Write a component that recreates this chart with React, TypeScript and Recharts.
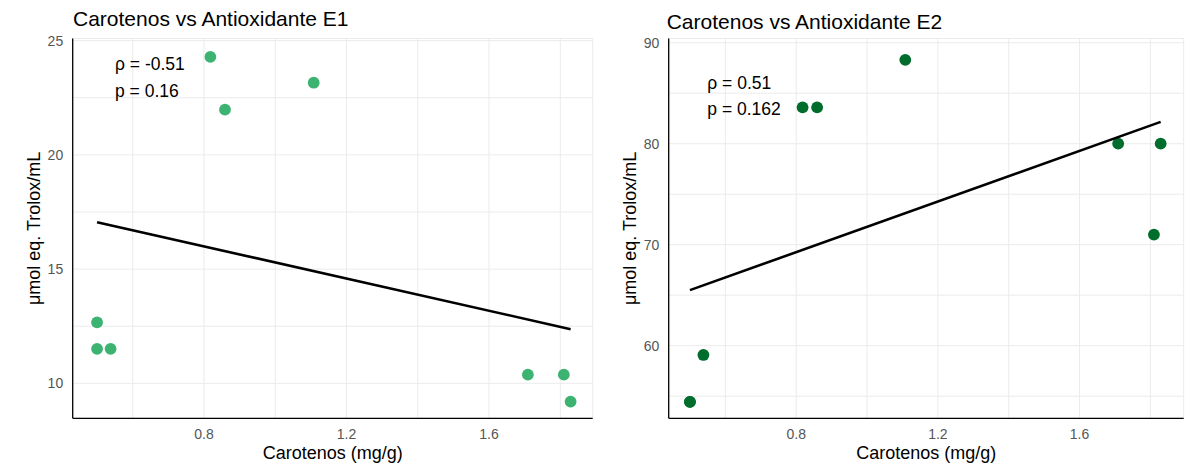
import React from "react";
import { ScatterChart, Scatter, XAxis, YAxis, CartesianGrid } from "recharts";

// Carotenos (mg/g) per sample
const carotenos = [0.5, 0.5, 0.538, 0.818, 0.859, 1.108, 1.709, 1.81, 1.829];
// µmol eq. Trolox/mL
const antioxE1 = [12.67, 11.51, 11.51, 24.29, 21.98, 23.16, 10.38, 10.38, 9.2];
const antioxE2 = [54.44, 54.44, 59.08, 83.6, 83.6, 88.3, 80.0, 71.0, 80.0];

// fitted line ends (lm)
const fitX = [0.5, 1.829];
const fitE1 = [17.05, 12.37];
const fitE2 = [65.5, 82.16];

const xTicks = [0.6, 0.8, 1.0, 1.2, 1.4, 1.6, 1.8];
const xLabeled = [0.8, 1.2, 1.6];
const yTicksE1 = [10, 12.5, 15, 17.5, 20, 22.5, 25];
const yLabeledE1 = [10, 15, 20, 25];
const yTicksE2 = [55, 60, 65, 70, 75, 80, 85, 90];
const yLabeledE2 = [60, 70, 80, 90];

const FONT = "'Liberation Sans', Arial, Helvetica, sans-serif";

const toPoints = (xs: number[], ys: number[]) => xs.map((x, i) => ({ x, y: ys[i] }));

interface PanelProps {
  left: number;
  width: number;
  marginRight: number;
  points: { x: number; y: number }[];
  fit: { x: number; y: number }[];
  color: string;
  xDomain: [number, number];
  yDomain: [number, number];
  yTicks: number[];
  yLabeled: number[];
}

const XTick = (props: any) => {
  const { x, y, payload, tickFormatter } = props;
  const s = tickFormatter ? tickFormatter(payload.value) : String(payload.value);
  return (
    <text x={x} y={y + 10.5} textAnchor="middle" fontSize={14} fill="#555" fontFamily={FONT}>
      {s}
    </text>
  );
};

const YTick = (props: any) => {
  const { x, y, payload, tickFormatter } = props;
  const s = tickFormatter ? tickFormatter(payload.value) : String(payload.value);
  return (
    <text x={x} y={y + 5} textAnchor="end" fontSize={14} fill="#555" fontFamily={FONT}>
      {s}
    </text>
  );
};

const YTitle = (props: any) => {
  const vb = props.viewBox || { x: 0 };
  const x = vb.x + 40;
  const y = 228.4;
  return (
    <text
      x={x}
      y={y}
      transform={`rotate(-90 ${x} ${y})`}
      textAnchor="middle"
      fontSize={18}
      fontFamily={FONT}
      fill="#000"
    >
      μmol eq. Trolox/mL
    </text>
  );
};

const Dot = (color: string) => (props: any) => <circle cx={props.cx} cy={props.cy} r={5.9} fill={color} />;

const Panel: React.FC<PanelProps> = ({ left, width, marginRight, points, fit, color, xDomain, yDomain, yTicks, yLabeled }) => (
  <div style={{ position: "absolute", left, top: 0 }}>
    <ScatterChart width={width} height={473} margin={{ top: 38.5, right: marginRight, bottom: 0, left: 0 }}>
      <CartesianGrid stroke="#ebebeb" strokeWidth={1} />
      <XAxis
        type="number"
        dataKey="x"
        domain={xDomain}
        allowDataOverflow
        ticks={xTicks}
        interval={0}
        tickFormatter={(v: number) => (xLabeled.some((t) => Math.abs(t - v) < 1e-6) ? v.toFixed(1) : "")}
        height={54.7}
        tickSize={0}
        tickMargin={10}
        tickLine={false}
        axisLine={{ stroke: "#000", strokeWidth: 1.3 }}
        tick={<XTick />}
        label={{ value: "Carotenos (mg/g)", position: "insideBottom", offset: 13.7, fill: "#000", fontSize: 18, fontFamily: FONT }}
      />
      <YAxis
        type="number"
        dataKey="y"
        domain={yDomain}
        allowDataOverflow
        ticks={yTicks}
        interval={0}
        tickFormatter={(v: number) => (yLabeled.includes(v) ? String(v) : "")}
        width={72.7}
        tickSize={0}
        tickMargin={9.5}
        tickLine={false}
        axisLine={{ stroke: "#000", strokeWidth: 1.3 }}
        tick={<YTick />}
        label={<YTitle />}
      />
      <Scatter data={points} fill={color} shape={Dot(color)} isAnimationActive={false} />
      <Scatter
        data={fit}
        line={{ stroke: "#000", strokeWidth: 2.6 }}
        shape={() => <g />}
        isAnimationActive={false}
      />
    </ScatterChart>
  </div>
);

const App: React.FC = () => {
  return (
    <div style={{ position: "absolute", left: 0, top: 0, width: 1195, height: 473, background: "#fff", fontFamily: FONT }}>
      <Panel
        left={0}
        width={600}
        marginRight={7.3}
        points={toPoints(carotenos, antioxE1)}
        fit={toPoints(fitX, fitE1)}
        color="#3cb371"
        xDomain={[0.4316, 1.891]}
        yDomain={[8.468, 25.096]}
        yTicks={yTicksE1}
        yLabeled={yLabeledE1}
      />
      <Panel
        left={595.6}
        width={599.4}
        marginRight={11.7}
        points={toPoints(carotenos, antioxE2)}
        fit={toPoints(fitX, fitE2)}
        color="#006d2c"
        xDomain={[0.44, 1.894]}
        yDomain={[52.81, 90.416]}
        yTicks={yTicksE2}
        yLabeled={yLabeledE2}
      />
      <svg width={1195} height={473} style={{ position: "absolute", left: 0, top: 0, pointerEvents: "none" }}>
        <g fontFamily={FONT} fill="#000">
          <text x={73} y={26} fontSize={21}>Carotenos vs Antioxidante E1</text>
          <text x={666.7} y={29.3} fontSize={21}>Carotenos vs Antioxidante E2</text>
          <text x={115} y={70} fontSize={17.5}>ρ = -0.51</text>
          <text x={115} y={96.7} fontSize={17.5}>p = 0.16</text>
          <text x={707.3} y={89.3} fontSize={17.5}>ρ = 0.51</text>
          <text x={707.3} y={115} fontSize={17.5}>p = 0.162</text>
        </g>
      </svg>
    </div>
  );
};

export default App;
